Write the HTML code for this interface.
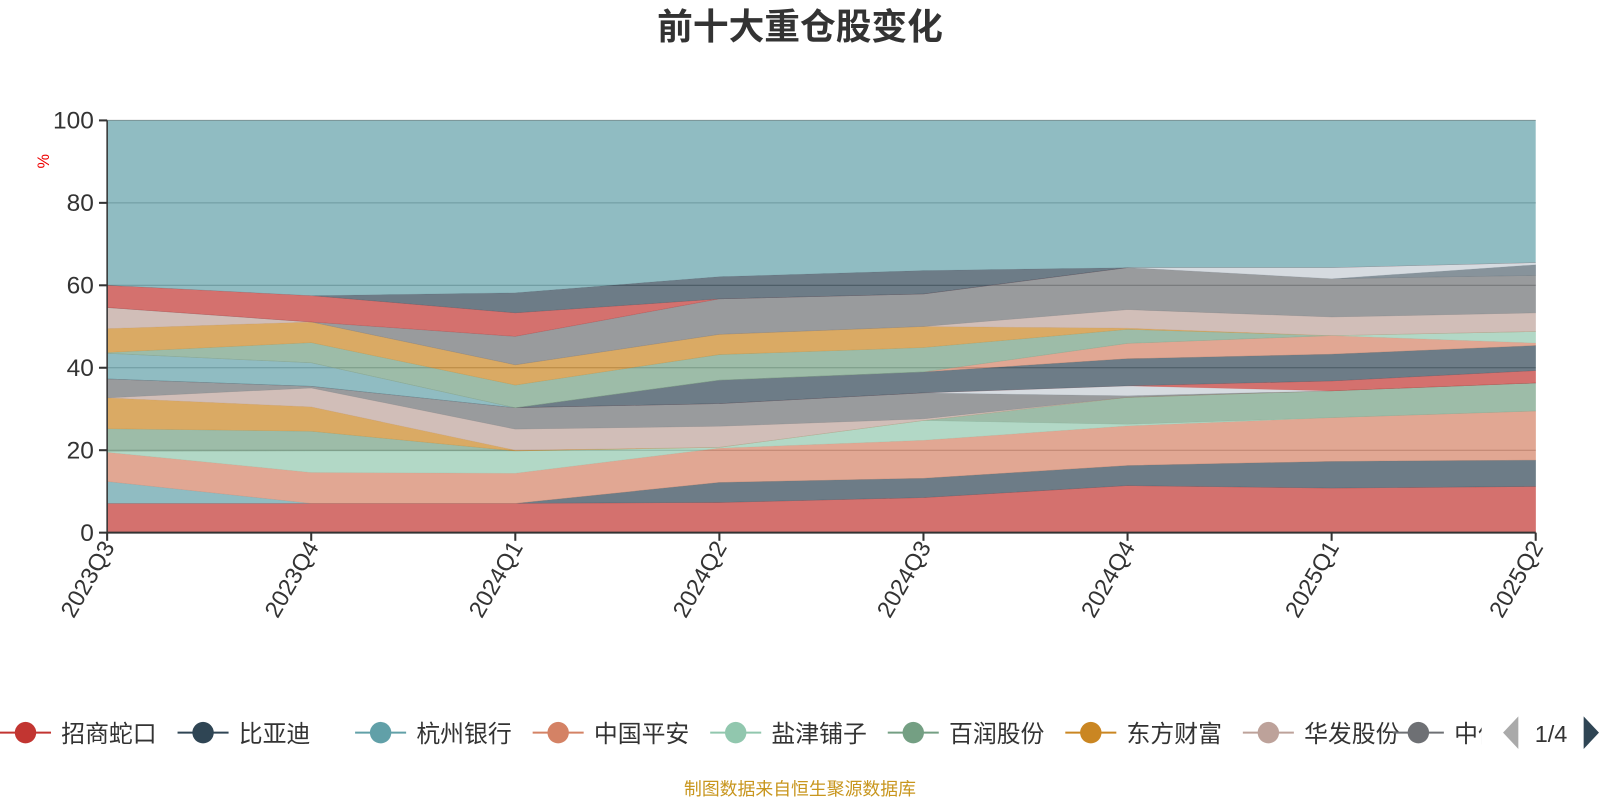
<!DOCTYPE html>
<html><head><meta charset="utf-8"><style>
html,body{margin:0;padding:0;background:#fff;}
svg{display:block;font-family:"Liberation Sans","Noto Sans CJK SC",sans-serif;}
</style></head><body>
<svg id="chart" width="1600" height="800" viewBox="0 0 1600 800">
<g transform="scale(1.0204)">
<text x="784" y="38" text-anchor="middle" font-size="35" font-weight="bold" fill="#333">前十大重仓股变化</text>
<g id="grid"></g>
<g id="areas"></g>
<g id="axes"></g>
<text x="0" y="0" transform="translate(48,158) rotate(-90)" text-anchor="middle" font-size="16" fill="#e00">%</text>
<g id="legend"></g>
<text x="784" y="779" text-anchor="middle" font-size="17.5" fill="#c8961e">制图数据来自恒生聚源数据库</text>
</g>
</svg>
<script>
const categories = ["2023Q3","2023Q4","2024Q1","2024Q2","2024Q3","2024Q4","2025Q1","2025Q2"];
const yTicks = [0,20,40,60,80,100];
const palette = ['#c23531','#2f4554','#61a0a8','#d48265','#91c7ae','#749f83','#ca8622','#bda29a','#6e7074','#546570','#c4ccd3'];
const s0 = [7.1,7.1,7.1,7.3,8.5,11.4,10.8,11.2];
const s1 = [0,0,0,4.9,4.7,4.9,6.5,6.4];
const s2 = [5.3,0,0,0,0,0,0,0];
const s3 = [7.1,7.5,7.3,8.3,9.2,9.6,10.6,11.9];
const s4 = [0.2,5.2,5.4,0.2,4.8,0.4,0,0];
const s5 = [5.5,4.8,0,0,0,6.5,6.5,6.8];
const s6 = [7.5,5.9,0.2,0,0,0,0,0];
const s7 = [0,4.6,5.1,5.1,0.4,0,0,0];
const s8 = [4.6,0.4,5.2,5.5,6.3,0.4,0,0];
const s9 = [0,0,0,0,0,0,0,0];
const s10 = [0,0,0,0,0,2.4,0,0];
const s11 = [0,0,0,0,0,0,2.4,3.0];
const s12 = [0,0,0,5.7,5.1,6.6,6.5,6.1];
const s13 = [6.2,5.7,0,0,0,0,0,0];
const s14 = [0,0,0,0,0,3.7,4.5,0.6];
const s15 = [0,0,0,0,0,0,0,2.8];
const s16 = [0.2,4.9,5.5,6.2,5.9,3.4,0,0];
const s17 = [5.8,5.0,4.9,4.9,5.1,0.3,0,0];
const s18 = [5.1,0,0,0,0,4.5,4.5,4.5];
const s19 = [0,0,6.9,8.6,7.9,10.2,9.3,9.1];
const s20 = [0,0,0,0,0,0,0,2.6];
const s21 = [0,0,0,0,0,0,2.7,0.5];
const s22 = [5.4,6.4,5.7,0,0,0,0,0];
const s23 = [0,0,4.9,5.4,5.7,0,0,0];
const series = [s0,s1,s2,s3,s4,s5,s6,s7,s8,s9,s10,s11,s12,s13,s14,s15,s16,s17,s18,s19,s20,s21,s22,s23];
const legendNames = ["招商蛇口","比亚迪","杭州银行","中国平安","盐津铺子","百润股份","东方财富","华发股份","中信"];

const NS = "http://www.w3.org/2000/svg";
const X0 = 105, X1 = 1505, Y0 = 522, Y1 = 118;
const xScale = i => X0 + i * (X1 - X0) / (categories.length - 1);
const yScale = v => Y0 - v * (Y0 - Y1) / 100;
function mk(tag, attrs, parent) {
  const e = document.createElementNS(NS, tag);
  for (const k in attrs) e.setAttribute(k, attrs[k]);
  parent.appendChild(e);
  return e;
}
const grid = document.getElementById('grid');
const areas = document.getElementById('areas');
const axes = document.getElementById('axes');
const legend = document.getElementById('legend');

yTicks.forEach(t => {
  if (t > 0) {
    const gl = mk('line', {x1: X0, x2: X1, y1: yScale(t), y2: yScale(t), stroke: '#8a8a8a', 'stroke-width': 1}, grid);
    
    
  }
  const tk = mk('line', {x1: X0 - 8, x2: X0, y1: yScale(t), y2: yScale(t), stroke: '#333', 'stroke-width': 2}, axes);
  
  
  const lb = mk('text', {x: X0 - 13, y: yScale(t) + 8, 'text-anchor': 'end', 'font-size': 24, fill: '#333'}, axes);
  lb.textContent = t;
  
  
});

let base = categories.map(() => 0);
series.forEach((s, si) => {
  const top = base.map((b, i) => b + s[i]);
  const pts = [];
  top.forEach((v, i) => pts.push(xScale(i) + ',' + yScale(v)));
  for (let i = base.length - 1; i >= 0; i--) pts.push(xScale(i) + ',' + yScale(base[i]));
  const c = palette[si % palette.length];
  const p = mk('polygon', {points: pts.join(' '), fill: c, 'fill-opacity': 0.7, stroke: c, 'stroke-opacity': 0.3, 'stroke-width': 0.5}, areas);
  
  
  base = top;
});
{
  const pts = [];
  categories.forEach((c, i) => pts.push(xScale(i) + ',' + yScale(100)));
  for (let i = base.length - 1; i >= 0; i--) pts.push(xScale(i) + ',' + yScale(base[i]));
  const p = mk('polygon', {points: pts.join(' '), fill: '#61a0a8', 'fill-opacity': 0.7}, areas);
  
  
}

const ya = mk('line', {x1: X0, x2: X0, y1: Y1, y2: Y0, stroke: '#333', 'stroke-width': 1.5}, axes);


const xa = mk('line', {x1: X0, x2: X1, y1: Y0, y2: Y0, stroke: '#333', 'stroke-width': 2}, axes);


categories.forEach((c, i) => {
  const x = xScale(i);
  const tk = mk('line', {x1: x, x2: x, y1: Y0, y2: Y0 + 8, stroke: '#333', 'stroke-width': 2}, axes);
  
  
  const lb = mk('text', {x: 0, y: 0, transform: 'translate(' + (x + 8) + ',' + (Y0 + 14) + ') rotate(-60)', 'text-anchor': 'end', 'font-size': 23, fill: '#333'}, axes);
  lb.textContent = c;
  
  
});

const legendX = [25, 199, 373, 547, 721, 895, 1069, 1243, 1390];
legendNames.forEach((n, i) => {
  const g = mk('g', {}, legend);
  
  
  const cx = legendX[i];
  const c = palette[i];
  mk('line', {x1: cx - 25, x2: cx + 25, y1: 718, y2: 718, stroke: c, 'stroke-width': 2}, g);
  mk('circle', {cx: cx, cy: 718, r: 10.5, fill: c}, g);
  const t = mk('text', {x: cx + 35, y: 727, 'font-size': 23.4, fill: '#333'}, g);
  t.textContent = n;
});
const clip = mk('rect', {x: 1452, y: 690, width: 22, height: 50, fill: '#fff'}, legend);


const prev = mk('polygon', {points: '1473,718 1488,702 1488,734', fill: '#aaa'}, legend);


const pg = mk('text', {x: 1520, y: 727, 'text-anchor': 'middle', 'font-size': 23, fill: '#333'}, legend);
pg.textContent = '1/4';


const next = mk('polygon', {points: '1567,718 1552,702 1552,734', fill: '#2f4554'}, legend);


</script>
</body></html>
